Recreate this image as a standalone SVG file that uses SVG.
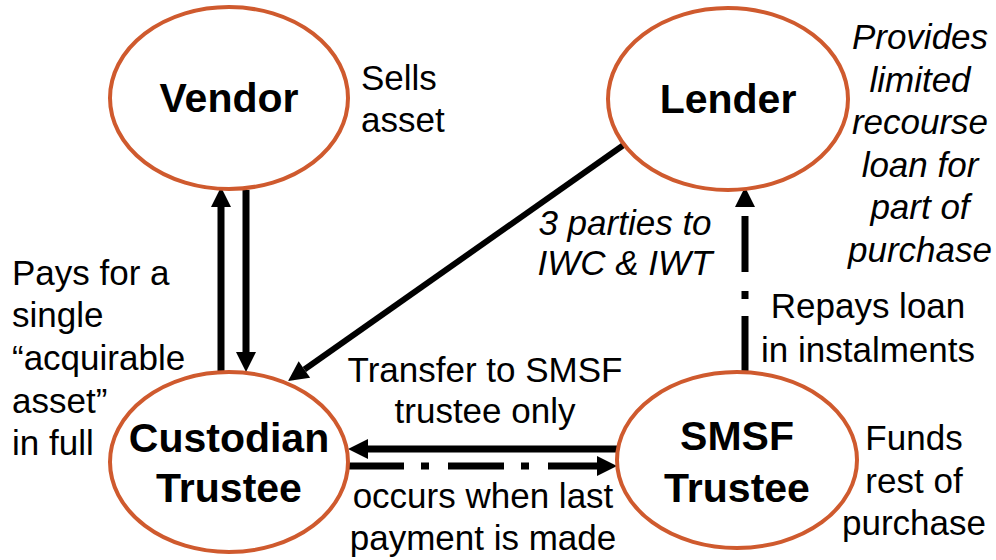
<svg xmlns="http://www.w3.org/2000/svg" width="996" height="560" viewBox="0 0 996 560">
  <style>
    .node { fill: #ffffff; stroke: #CF5A2E; stroke-width: 4; }
    .name { font-family: "Liberation Sans", Arial, sans-serif; font-weight: bold; font-size: 41px; fill: #000; text-anchor: middle; }
    .lbl { font-family: "Liberation Sans", Arial, sans-serif; font-size: 35px; fill: #000; }
    .it { font-style: italic; }
    .mid { text-anchor: middle; }
    .conn { fill: none; stroke: #000; stroke-width: 7; }
    .dashdot { stroke-dasharray: 56 17 8 19; }
  </style>
  <defs>
    <marker id="head" markerUnits="userSpaceOnUse" markerWidth="20" markerHeight="20" refX="0" refY="10" orient="auto" overflow="visible">
      <path d="M0,0 L20,10 L0,20 Z" fill="#000"/>
    </marker>
  </defs>

  <rect width="996" height="560" fill="#ffffff"/>

  <!-- connectors (lines stop at the arrowhead base; marker supplies the tip) -->
  <g id="connectors">
    <line class="conn" x1="221" y1="372" x2="221" y2="207" marker-end="url(#head)"/>
    <line class="conn" x1="246" y1="190" x2="246" y2="352" marker-end="url(#head)"/>
    <line class="conn" style="stroke-width:6" x1="625" y1="144" x2="304.4" y2="369.5" marker-end="url(#head)"/>
    <line class="conn" x1="617" y1="449" x2="368" y2="449" marker-end="url(#head)"/>
    <line class="conn dashdot" x1="348" y1="466" x2="597" y2="466" marker-end="url(#head)"/>
    <line class="conn dashdot" x1="745" y1="372" x2="745" y2="207" marker-end="url(#head)"/>
  </g>

  <g id="vendor">
    <ellipse class="node" cx="229" cy="98" rx="119" ry="91"/>
    <text class="name" x="229" y="112">Vendor</text>
  </g>

  <g id="lender">
    <ellipse class="node" cx="728" cy="99" rx="120" ry="91"/>
    <text class="name" x="728" y="113">Lender</text>
  </g>

  <g id="custodian-trustee">
    <ellipse class="node" cx="229" cy="462" rx="119" ry="90"/>
    <text class="name" x="229" y="452">Custodian</text>
    <text class="name" x="229" y="502">Trustee</text>
  </g>

  <g id="smsf-trustee">
    <ellipse class="node" cx="737" cy="460" rx="120" ry="88"/>
    <text class="name" x="737" y="450">SMSF</text>
    <text class="name" x="737" y="502">Trustee</text>
  </g>

  <!-- annotations -->
  <g id="labels">
    <text class="lbl" x="361" y="90">Sells</text>
    <text class="lbl" x="361" y="132">asset</text>

    <text class="lbl it mid" x="920" y="49">Provides</text>
    <text class="lbl it mid" x="920" y="92">limited</text>
    <text class="lbl it mid" x="920" y="134">recourse</text>
    <text class="lbl it mid" x="920" y="177">loan for</text>
    <text class="lbl it mid" x="920" y="219">part of</text>
    <text class="lbl it mid" x="920" y="262">purchase</text>

    <text class="lbl it mid" x="625" y="235">3 parties to</text>
    <text class="lbl it mid" x="625" y="275">IWC &amp; IWT</text>

    <text class="lbl" x="12" y="285">Pays for a</text>
    <text class="lbl" x="12" y="327">single</text>
    <text class="lbl" x="12" y="370">“acquirable</text>
    <text class="lbl" x="12" y="413">asset”</text>
    <text class="lbl" x="12" y="455">in full</text>

    <text class="lbl mid" x="868" y="318">Repays loan</text>
    <text class="lbl mid" x="868" y="362">in instalments</text>

    <text class="lbl mid" x="485" y="382">Transfer to SMSF</text>
    <text class="lbl mid" x="485" y="423">trustee only</text>

    <text class="lbl mid" x="483" y="508">occurs when last</text>
    <text class="lbl mid" x="483" y="550">payment is made</text>

    <text class="lbl mid" x="914" y="450">Funds</text>
    <text class="lbl mid" x="914" y="493">rest of</text>
    <text class="lbl mid" x="914" y="535">purchase</text>
  </g>
</svg>
